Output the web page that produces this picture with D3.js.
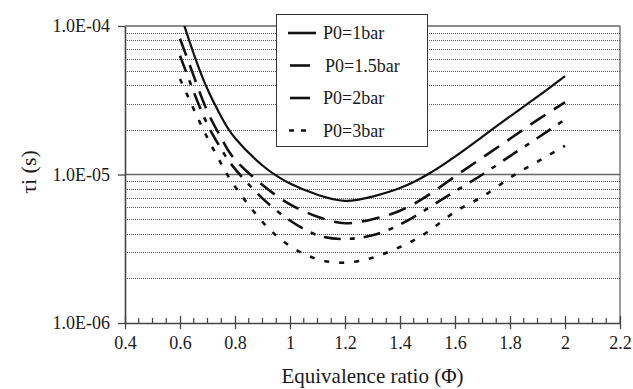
<!DOCTYPE html>
<html>
<head>
<meta charset="utf-8">
<script src="https://cdn.jsdelivr.net/npm/d3@7"></script>
<style>
	body { margin: 0; background: #fff; }
	svg { display: block; font-family: "Liberation Serif", "DejaVu Serif", serif; }
</style>
</head>
<body>
<svg id="chart" width="633" height="389"></svg>
<script>
// equivalence ratio values
const phi = [0.6, 0.65, 0.7, 0.75, 0.8, 0.9, 1.0, 1.1, 1.2, 1.3, 1.4, 1.5, 1.6, 1.7, 1.8, 1.9, 2.0]

// ignition delay (s)
const p1 = [1.23e-4, 6.5e-5, 3.75e-5, 2.45e-5, 1.76e-5, 1.15e-5, 8.7e-6, 7.3e-6, 6.65e-6, 7.1e-6, 8.1e-6, 1.0e-5, 1.32e-5, 1.8e-5, 2.46e-5, 3.34e-5, 4.6e-5]
const p15 = [8.2e-5, 4.6e-5, 2.65e-5, 1.76e-5, 1.26e-5, 8.5e-6, 6.3e-6, 5.2e-6, 4.7e-6, 5.0e-6, 5.7e-6, 7.2e-6, 9.7e-6, 1.3e-5, 1.74e-5, 2.33e-5, 3.06e-5]
const p2 = [6.3e-5, 3.6e-5, 2.17e-5, 1.48e-5, 1.09e-5, 6.9e-6, 4.9e-6, 3.9e-6, 3.68e-6, 3.9e-6, 4.6e-6, 5.9e-6, 7.7e-6, 1.0e-5, 1.33e-5, 1.76e-5, 2.35e-5]
const p3 = [4.4e-5, 2.75e-5, 1.76e-5, 1.18e-5, 8.3e-6, 4.8e-6, 3.3e-6, 2.69e-6, 2.55e-6, 2.75e-6, 3.25e-6, 4.1e-6, 5.6e-6, 7.1e-6, 9.5e-6, 1.22e-5, 1.56e-5]

const seriesNames = ["P0=1bar", "P0=1.5bar", "P0=2bar", "P0=3bar"]
const xTicks = [0.4, 0.6, 0.8, 1, 1.2, 1.4, 1.6, 1.8, 2, 2.2]
const yTicks = [1e-6, 1e-5, 1e-4]
const yTickLabels = ["1.0E-06", "1.0E-05", "1.0E-04"]

const series = [p1, p15, p2, p3]
// штрихи для каждой линии
const dashes = [null, "18,10", "17,9,5,9", "5,10"]

const svg = d3.select("#chart")
const plotL = 125, plotR = 620, plotT = 26, plotB = 323
const fontTick = "18px"

const x = d3.scaleLinear().domain([0.4, 2.2]).range([plotL, plotR])
const y = d3.scaleLog().domain([1e-6, 1e-4]).range([plotB, plotT])

// minor gridlines (2..9 of each decade), dotted
const minor = []
for (const dec of [1e-6, 1e-5]) {
	for (let k = 2; k <= 9; k++) minor.push(dec * k)
}
svg.append("g")
	.selectAll("line")
	.data(minor)
	.join("line")
	.attr("x1", plotL).attr("x2", plotR)
	.attr("y1", d => Math.round(y(d)) + 0.5).attr("y2", d => Math.round(y(d)) + 0.5)
	.attr("stroke", "#555")
	.attr("stroke-width", 1)
	.attr("stroke-dasharray", "1,1")

// decade gridlines, solid
svg.append("g")
	.selectAll("line")
	.data([1e-5, 1e-4])
	.join("line")
	.attr("x1", plotL).attr("x2", plotR)
	.attr("y1", d => y(d)).attr("y2", d => y(d))
	.attr("stroke", "#666")
	.attr("stroke-width", 1.3)

// right border
svg.append("line")
	.attr("x1", plotR).attr("x2", plotR)
	.attr("y1", plotT).attr("y2", plotB)
	.attr("stroke", "#666")
	.attr("stroke-width", 1.3)

// x axis: major ticks every 0.2, minor every 0.05
const xMinor = d3.range(0.45, 2.2, 0.05).filter(v => Math.abs(v * 5 - Math.round(v * 5)) > 1e-6)
svg.append("g")
	.selectAll("line")
	.data(xMinor)
	.join("line")
	.attr("x1", d => x(d)).attr("x2", d => x(d))
	.attr("y1", plotB - 5).attr("y2", plotB)
	.attr("stroke", "#444")
	.attr("stroke-width", 1.2)

const xAxis = svg.append("g")
	.attr("transform", `translate(0,${plotB})`)
	.call(d3.axisBottom(x).tickValues(xTicks).tickFormat(d3.format("")).tickSizeInner(6).tickSizeOuter(0).tickPadding(7))
xAxis.select(".domain").attr("stroke", "#444").attr("stroke-width", 1.6)
xAxis.selectAll(".tick line").attr("y1", -7).attr("y2", 6).attr("stroke", "#444").attr("stroke-width", 1.3)
xAxis.selectAll(".tick text")
	.attr("fill", "#1a1a1a")
	.style("font-size", fontTick)
	.style("font-family", "Liberation Serif, serif")

// y axis
const yAxis = svg.append("g")
	.attr("transform", `translate(${plotL},0)`)
	.call(d3.axisLeft(y).tickValues(yTicks).tickFormat((d, i) => yTickLabels[i]).tickSizeInner(7).tickSizeOuter(0).tickPadding(8))
yAxis.select(".domain").attr("stroke", "#444").attr("stroke-width", 1.6)
yAxis.selectAll(".tick line").attr("stroke", "#444").attr("stroke-width", 1.3)
yAxis.selectAll(".tick text")
	.attr("fill", "#1a1a1a")
	.style("font-size", fontTick)
	.style("font-family", "Liberation Serif, serif")

// clip the curves to the plotting area
svg.append("clipPath").attr("id", "plotclip")
	.append("rect")
	.attr("x", plotL).attr("y", plotT)
	.attr("width", plotR - plotL).attr("height", plotB - plotT)

const line = d3.line()
	.x(d => x(d[0]))
	.y(d => y(d[1]))
	.curve(d3.curveNatural)

svg.append("g")
	.attr("clip-path", "url(#plotclip)")
	.selectAll("path")
	.data(series)
	.join("path")
	.attr("d", s => line(phi.map((p, i) => [p, s[i]])))
	.attr("fill", "none")
	.attr("stroke", "#111")
	.attr("stroke-width", (d, i) => i === 0 ? 2.2 : 2.6)
	.attr("stroke-dasharray", (d, i) => dashes[i])

// legend
const lg = svg.append("g")
lg.append("rect")
	.attr("x", 276.5).attr("y", 14.5)
	.attr("width", 151).attr("height", 132)
	.attr("fill", "#fff")
	.attr("stroke", "#333")
	.attr("stroke-width", 1)

const legendSamples = [
	{ x1: 288, x2: 316, dash: null },
	{ x1: 290, x2: 310, dash: null },
	{ x1: 290, x2: 310, dash: null },
	{ x1: 289, x2: 307, dash: "5,7" },
]
const legendRows = lg.selectAll("g.row")
	.data(seriesNames)
	.join("g")
	.attr("class", "row")
	.attr("transform", (d, i) => `translate(0,${33 + i * 32.5})`)

legendRows.append("line")
	.attr("x1", (d, i) => legendSamples[i].x1)
	.attr("x2", (d, i) => legendSamples[i].x2)
	.attr("stroke", "#111")
	.attr("stroke-width", 2.6)
	.attr("stroke-dasharray", (d, i) => legendSamples[i].dash)

legendRows.append("text")
	.attr("x", (d, i) => i === 1 ? 325 : 323)
	.attr("y", 6)
	.attr("fill", "#1a1a1a")
	.style("font-size", fontTick)
	.text(d => d)

// axis titles
svg.append("text")
	.attr("x", (plotL + plotR) / 2)
	.attr("y", 383)
	.attr("text-anchor", "middle")
	.attr("fill", "#1a1a1a")
	.style("font-size", "21px")
	.text("Equivalence ratio (Φ)")

svg.append("text")
	.attr("transform", "translate(36,172) rotate(-90)")
	.attr("text-anchor", "middle")
	.attr("fill", "#1a1a1a")
	.style("font-size", "22px")
	.text("τi (s)")
</script>
</body>
</html>
